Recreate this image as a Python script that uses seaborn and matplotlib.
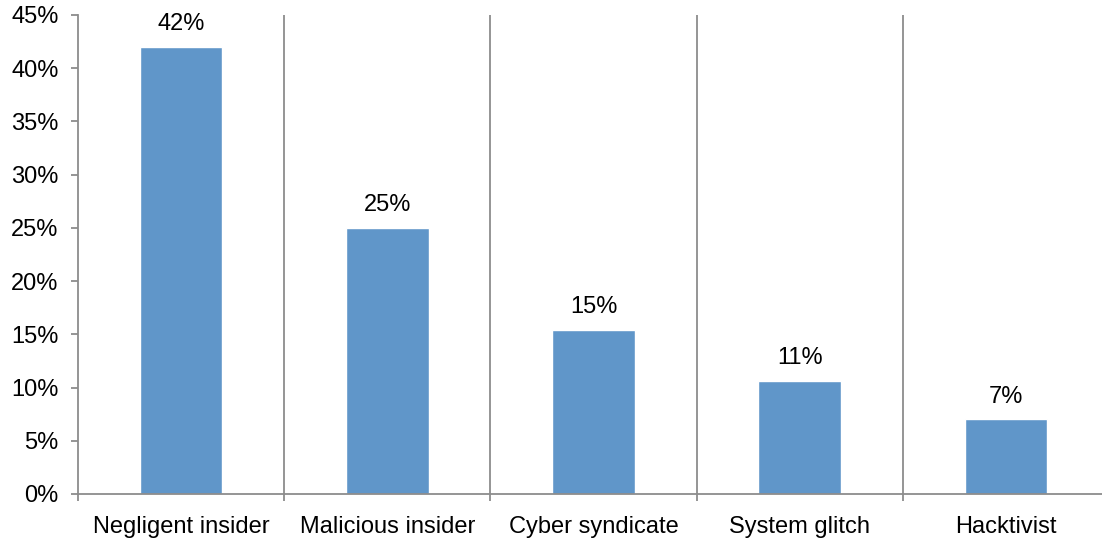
import matplotlib
matplotlib.use("Agg")
import matplotlib.pyplot as plt
from matplotlib.ticker import FixedLocator, PercentFormatter
import seaborn as sns
import pandas as pd

categories = ["Negligent insider", "Malicious insider", "Cyber syndicate", "System glitch", "Hacktivist"]
shares = [42, 25, 15.4, 10.6, 7]
y_ticks = [0, 5, 10, 15, 20, 25, 30, 35, 40, 45]

sns.set_style("white")
plt.rcParams["font.family"] = ["Liberation Sans", "DejaVu Sans"]

df = pd.DataFrame({"category": categories, "share": shares})

fig = plt.figure(figsize=(11.02, 5.39), dpi=100)
ax = fig.add_axes([78 / 1102, 1 - 494 / 539, 1031 / 1102, 479 / 539])

bar_color = "#6096C9"
line_color = "#8C8C8C"

sns.barplot(data=df, x="category", y="share", color=bar_color, width=0.4,
            saturation=1, ax=ax)

ax.set_xlim(-0.5, len(categories) - 0.5)
ax.set_ylim(0, 45)
ax.set_yticks(y_ticks)
ax.yaxis.set_major_formatter(PercentFormatter(decimals=0))

# category separators
bounds = [i + 0.5 for i in range(len(categories) - 1)]
for b in bounds:
    ax.axvline(b, color=line_color, lw=1.3, zorder=0)

ax.xaxis.set_minor_locator(FixedLocator([-0.5] + bounds + [len(categories) - 0.5]))
ax.tick_params(axis="x", which="major", bottom=False, labelsize=17, pad=12.5, colors="black")
ax.tick_params(axis="x", which="minor", bottom=True, length=5, width=1.3,
               color=line_color, direction="out")
ax.tick_params(axis="y", left=True, length=5, width=1.3, color=line_color, direction="out",
               labelsize=17, pad=9, labelcolor="black")
ax.set_xlabel("")
ax.set_ylabel("")

for side in ["top", "right"]:
    ax.spines[side].set_visible(False)
for side in ["left", "bottom"]:
    ax.spines[side].set_color(line_color)
    ax.spines[side].set_linewidth(1.3)

for i, v in enumerate(shares):
    ax.text(i, v + 1.1, f"{v:.0f}%", ha="center", va="bottom", fontsize=17, color="black")

fig.savefig("out.png", dpi=100)
